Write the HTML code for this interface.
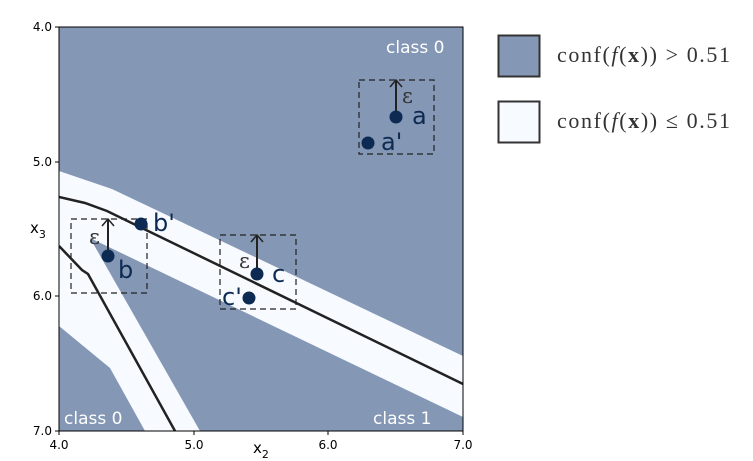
<!DOCTYPE html>
<html><head><meta charset="utf-8"><style>
html,body{margin:0;padding:0;background:#fff;width:753px;height:461px;overflow:hidden}
svg{display:block}
</style></head><body>
<svg width="753" height="461" xmlns="http://www.w3.org/2000/svg">
<defs><clipPath id="c"><rect x="59" y="27" width="404" height="404"/></clipPath></defs>
<rect x="59" y="27" width="404" height="404" fill="#8497b5"/>
<g clip-path="url(#c)">
<polygon points="59,171 112,189 463,356 463,417 90,238 200,431 145,431 110,368 59,326" fill="#f7faff"/>
<polyline points="59,197 85,203 107,211 463,384" fill="none" stroke="#222" stroke-width="2.5"/>
<polyline points="59,246 82,270 88,274 175,431" fill="none" stroke="#222" stroke-width="2.5"/>
</g>
<rect x="59" y="27" width="404" height="404" fill="none" stroke="#000" stroke-width="1"/>
<g fill="none" stroke="#222" stroke-width="1.2" stroke-dasharray="6,4">
<rect x="359" y="80" width="75" height="74"/>
<rect x="71" y="219" width="76" height="74"/>
<rect x="220" y="235" width="76" height="74"/>
</g>
<g stroke="#222" stroke-width="2" fill="none">
<line x1="396" y1="117" x2="396" y2="80"/><polyline points="390,87 396,80 402,87" stroke-width="1.5"/>
<line x1="108" y1="256" x2="108" y2="219"/><polyline points="102,226 108,219 114,226" stroke-width="1.5"/>
<line x1="257" y1="274" x2="257" y2="235"/><polyline points="251,242 257,235 263,242" stroke-width="1.5"/>
</g>
<g fill="#0d2a52">
<circle cx="396" cy="117" r="6.5"/><circle cx="368" cy="143" r="6.5"/>
<circle cx="108" cy="256" r="6.5"/><circle cx="141" cy="224" r="6.5"/>
<circle cx="257" cy="274" r="6.5"/><circle cx="249" cy="298" r="6.5"/>
</g>
<g font-family="DejaVu Sans, sans-serif" font-size="24" fill="#0d2a52">
<text x="412" y="124">a</text><text x="381" y="150">a'</text>
<text x="118" y="278">b</text><text x="153" y="231">b'</text>
<text x="272" y="282">c</text><text x="222" y="305">c'</text>
</g>
<g font-family="DejaVu Serif, serif" font-size="21" fill="#333">
<text x="402" y="103">ε</text><text x="89" y="244">ε</text><text x="239" y="268">ε</text>
</g>
<g font-family="DejaVu Sans, sans-serif" font-size="17" fill="#fff">
<text x="386" y="53">class 0</text>
<text x="64" y="424">class 0</text>
<text x="373" y="424">class 1</text>
</g>
<g stroke="#000" stroke-width="1">
<line x1="55" y1="27" x2="59" y2="27"/><line x1="55" y1="162" x2="59" y2="162"/>
<line x1="55" y1="296" x2="59" y2="296"/><line x1="55" y1="431" x2="59" y2="431"/>
<line x1="59" y1="431" x2="59" y2="435"/><line x1="194" y1="431" x2="194" y2="435"/>
<line x1="328" y1="431" x2="328" y2="435"/><line x1="463" y1="431" x2="463" y2="435"/>
</g>
<g font-family="DejaVu Sans, sans-serif" font-size="12" fill="#000">
<text x="52" y="31" text-anchor="end">4.0</text>
<text x="52" y="166" text-anchor="end">5.0</text>
<text x="52" y="300" text-anchor="end">6.0</text>
<text x="52" y="435" text-anchor="end">7.0</text>
<text x="59" y="449" text-anchor="middle">4.0</text>
<text x="194" y="449" text-anchor="middle">5.0</text>
<text x="328" y="449" text-anchor="middle">6.0</text>
<text x="463" y="449" text-anchor="middle">7.0</text>
<text x="253" y="453" font-size="15">x<tspan font-size="11" dy="5">2</tspan></text>
<text x="30" y="233" font-size="15">x<tspan font-size="11" dy="5">3</tspan></text>
</g>
<rect x="498.5" y="35.5" width="41" height="41" fill="#8497b5" stroke="#333" stroke-width="2"/>
<rect x="498.5" y="101.5" width="41" height="41" fill="#f7faff" stroke="#333" stroke-width="2"/>
<g font-family="Liberation Serif, serif" font-size="22" fill="#333">
<text x="557" y="62" textLength="173" lengthAdjust="spacing">conf(<tspan font-style="italic">f</tspan>(<tspan font-weight="bold">x</tspan>)) &gt; 0.51</text>
<text x="557" y="128" textLength="173" lengthAdjust="spacing">conf(<tspan font-style="italic">f</tspan>(<tspan font-weight="bold">x</tspan>)) ≤ 0.51</text>
</g>
</svg>
</body></html>
